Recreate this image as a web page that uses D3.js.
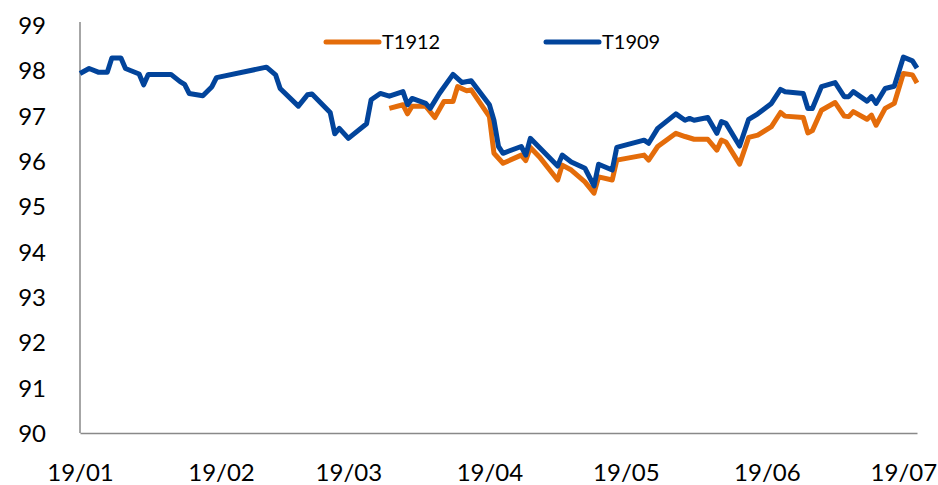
<!DOCTYPE html>
<html>
<head>
<meta charset="utf-8">
<script src="https://cdn.jsdelivr.net/npm/d3@7"></script>
<style>
  body { margin: 0; background: #fff; }
  svg text { font-family: Lato, "Open Sans", sans-serif; fill: #000; }
</style>
</head>
<body>
<div id="chart"></div>
<script>
// series names / colours
var seriesNames = ["T1912", "T1909"];
var seriesColors = ["#E46C0A", "#02449B"];

// T1909 (turning points)
var t1909Dates = ["2019-01-02","2019-01-04","2019-01-06","2019-01-08","2019-01-09","2019-01-11","2019-01-12","2019-01-15","2019-01-16","2019-01-17",
  "2019-01-22","2019-01-24","2019-01-25","2019-01-26","2019-01-29","2019-01-31","2019-02-01","2019-02-12","2019-02-14","2019-02-15",
  "2019-02-19","2019-02-21","2019-02-22","2019-02-26","2019-02-27","2019-02-28","2019-03-02","2019-03-06","2019-03-07","2019-03-09",
  "2019-03-11","2019-03-14","2019-03-15","2019-03-16","2019-03-19","2019-03-20","2019-03-22","2019-03-25","2019-03-27","2019-03-29",
  "2019-04-02","2019-04-03","2019-04-04","2019-04-05","2019-04-09","2019-04-10","2019-04-11","2019-04-13","2019-04-17","2019-04-18",
  "2019-04-20","2019-04-23","2019-04-25","2019-04-26","2019-04-29","2019-04-30","2019-05-06","2019-05-07","2019-05-09","2019-05-13",
  "2019-05-15","2019-05-16","2019-05-17","2019-05-20","2019-05-22","2019-05-23","2019-05-24","2019-05-27","2019-05-29","2019-05-31",
  "2019-06-03","2019-06-05","2019-06-06","2019-06-10","2019-06-11","2019-06-12","2019-06-14","2019-06-17","2019-06-19","2019-06-20",
  "2019-06-21","2019-06-24","2019-06-25","2019-06-26","2019-06-28","2019-06-30","2019-07-02","2019-07-04","2019-07-05"];
var t1909Values = [97.93,98.04,97.96,97.96,98.27,98.27,98.04,97.92,97.68,97.91,
  97.91,97.75,97.69,97.49,97.44,97.64,97.84,98.07,97.90,97.60,
  97.21,97.46,97.48,97.07,96.60,96.72,96.50,96.82,97.35,97.49,
  97.43,97.53,97.24,97.38,97.27,97.16,97.49,97.91,97.73,97.77,
  97.24,96.90,96.32,96.17,96.32,96.13,96.50,96.30,95.89,96.13,
  95.98,95.84,95.45,95.93,95.80,96.30,96.46,96.39,96.72,97.04,
  96.90,96.94,96.90,96.96,96.61,96.87,96.83,96.33,96.92,97.04,
  97.27,97.58,97.53,97.49,97.16,97.16,97.64,97.73,97.42,97.42,
  97.53,97.32,97.42,97.27,97.60,97.65,98.29,98.21,98.05];

// T1912 starts in March
var t1912Dates = ["2019-03-11","2019-03-14","2019-03-15","2019-03-16","2019-03-19","2019-03-21","2019-03-23","2019-03-25","2019-03-26","2019-03-28",
  "2019-03-29","2019-04-02","2019-04-03","2019-04-05","2019-04-09","2019-04-10","2019-04-11","2019-04-13","2019-04-17","2019-04-18",
  "2019-04-20","2019-04-23","2019-04-25","2019-04-26","2019-04-29","2019-04-30","2019-05-06","2019-05-07","2019-05-09","2019-05-13",
  "2019-05-15","2019-05-17","2019-05-20","2019-05-22","2019-05-23","2019-05-24","2019-05-27","2019-05-29","2019-05-31","2019-06-03",
  "2019-06-05","2019-06-06","2019-06-10","2019-06-11","2019-06-12","2019-06-14","2019-06-17","2019-06-19","2019-06-20","2019-06-21",
  "2019-06-24","2019-06-25","2019-06-26","2019-06-28","2019-06-30","2019-07-02","2019-07-04","2019-07-05"];
var t1912Values = [97.16,97.24,97.04,97.21,97.21,96.96,97.31,97.31,97.64,97.55,
  97.57,96.98,96.17,95.95,96.13,96.01,96.30,96.09,95.58,95.91,
  95.80,95.54,95.29,95.65,95.58,96.02,96.13,96.02,96.32,96.61,
  96.54,96.48,96.48,96.24,96.46,96.42,95.93,96.52,96.57,96.76,
  97.07,96.99,96.96,96.62,96.67,97.12,97.29,96.99,96.98,97.09,
  96.92,97.01,96.79,97.16,97.27,97.93,97.90,97.72];

var xTicks = ["2019-01-02","2019-02-02","2019-03-02","2019-04-02","2019-05-02","2019-06-02","2019-07-02"];
var yTicks = [90,91,92,93,94,95,96,97,98,99];

var parse = d3.timeParse("%Y-%m-%d");
var width = 938, height = 485;
var margin = {top: 25, right: 21, bottom: 52, left: 80};

var svg = d3.select("#chart").append("svg")
  .attr("width", width)
  .attr("height", height);

var x = d3.scaleTime()
  .domain([parse("2019-01-02"), parse("2019-07-05")])
  .range([margin.left, width - margin.right]);

var y = d3.scaleLinear()
  .domain([90, 99])
  .range([height - margin.bottom, margin.top]);

// y axis
svg.append("g")
  .attr("transform", "translate(" + margin.left + ",0)")
  .call(d3.axisLeft(y).tickValues(yTicks).tickSize(0).tickPadding(34).tickFormat(d3.format("d")))
  .call(g => g.select(".domain").attr("stroke", "#898989").attr("stroke-width", 1.5)
      .attr("d", "M0," + (margin.top - 3) + "V" + y(90)))
  .call(g => g.selectAll(".tick text").style("font-size", "24px").attr("dy", "0.36em"));

// x axis
svg.append("g")
  .attr("transform", "translate(0," + y(90) + ")")
  .call(d3.axisBottom(x).tickValues(xTicks.map(parse)).tickSize(0).tickPadding(31).tickFormat(d3.timeFormat("%y/%m")))
  .call(g => g.select(".domain").attr("stroke", "#898989").attr("stroke-width", 1.5))
  .call(g => g.selectAll(".tick text").style("font-size", "24px"));

var line = d3.line()
  .x(d => x(d.date))
  .y(d => y(d.value));

var series = [
  {name: seriesNames[0], color: seriesColors[0], data: t1912Dates.map((d, i) => ({date: parse(d), value: t1912Values[i]}))},
  {name: seriesNames[1], color: seriesColors[1], data: t1909Dates.map((d, i) => ({date: parse(d), value: t1909Values[i]}))}
];

svg.selectAll(".series")
  .data(series)
  .enter().append("path")
  .attr("class", "series")
  .attr("d", d => line(d.data))
  .attr("fill", "none")
  .attr("stroke", d => d.color)
  .attr("stroke-width", 5)
  .attr("stroke-linejoin", "round");

// legend
var legend = svg.selectAll(".legend")
  .data(series)
  .enter().append("g")
  .attr("class", "legend")
  .attr("transform", (d, i) => "translate(" + (326 + i * 220) + ",42)");

legend.append("line")
  .attr("x1", 0).attr("x2", 53)
  .attr("stroke", d => d.color)
  .attr("stroke-width", 5)
  .attr("stroke-linecap", "round");

legend.append("text")
  .attr("x", 56)
  .attr("dy", "0.36em")
  .style("font-size", "20px")
  .text(d => d.name);
</script>
</body>
</html>
